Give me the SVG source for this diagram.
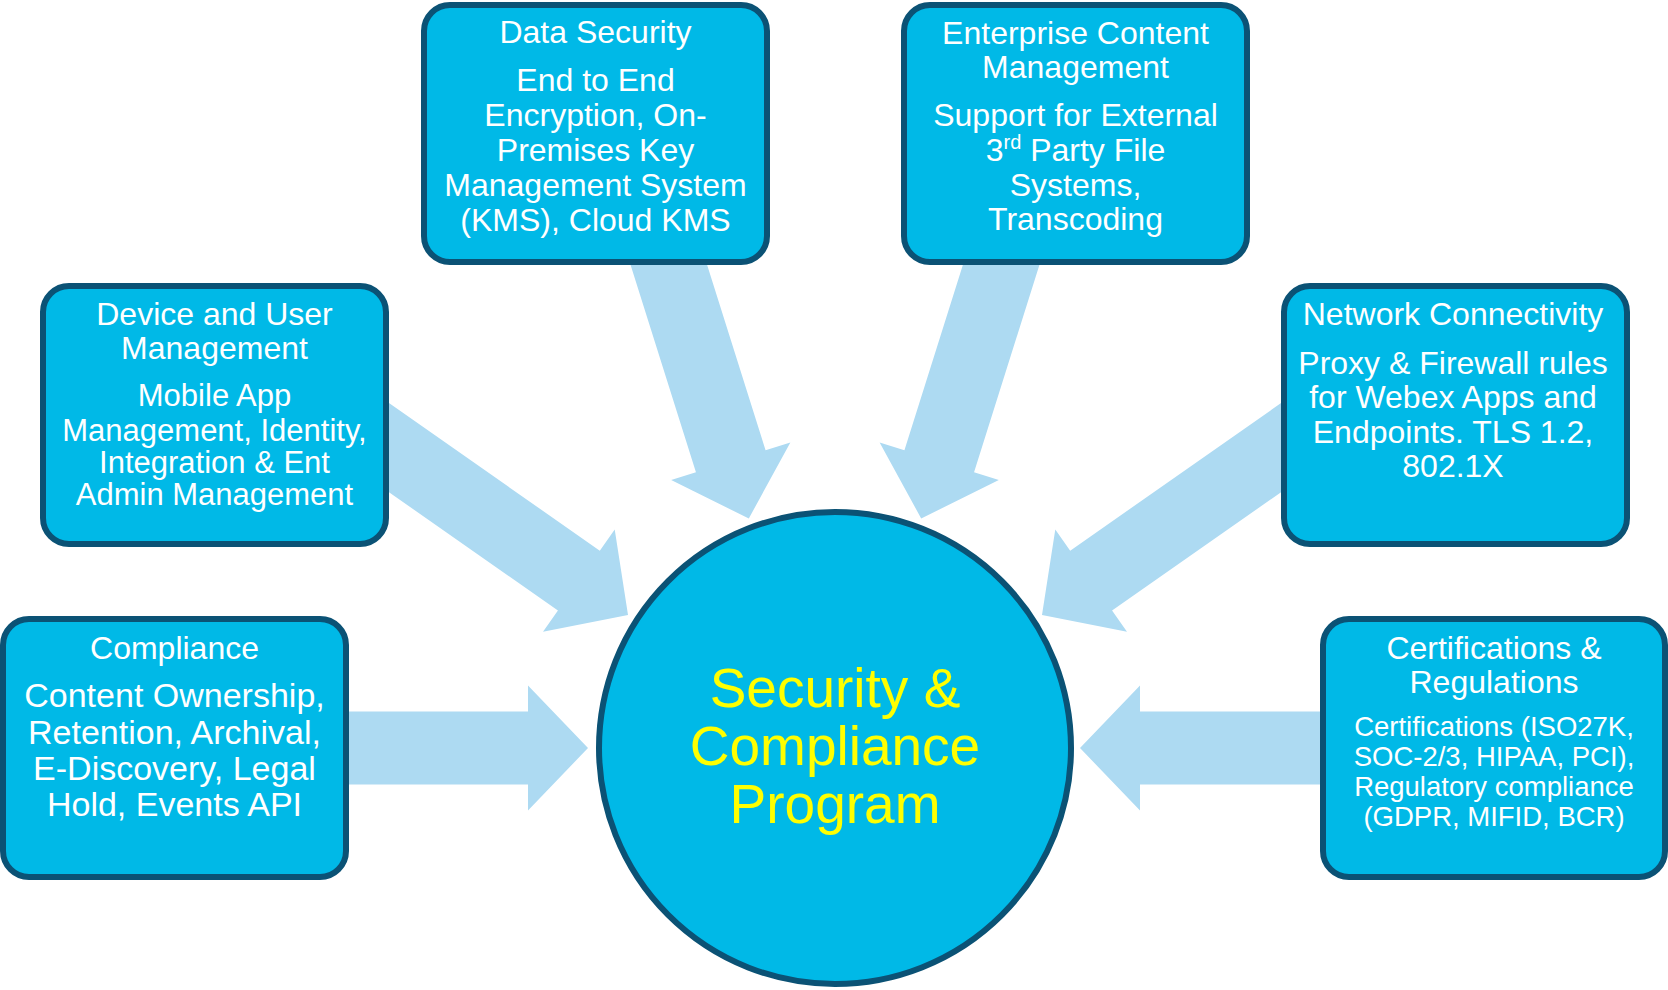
<svg xmlns="http://www.w3.org/2000/svg" width="1668" height="990" viewBox="0 0 1668 990">
<style>
.box{fill:#00B9E7;stroke:#0B5275;stroke-width:6}
.arr{fill:#ADDAF2}
.t{font-family:"Liberation Sans",Arial,sans-serif;fill:#FFFFFF;text-anchor:middle;font-size:32px}
.b{font-family:"Liberation Sans",Arial,sans-serif;fill:#FFFFFF;text-anchor:middle;font-size:31px}
.c{font-family:"Liberation Sans",Arial,sans-serif;fill:#FFFF00;text-anchor:middle;font-size:55px}
</style>
<defs>
<path id="a340" d="M0,-36.5 H280 V-62.5 L340,0 L280,62.5 V36.5 H0 Z"/>
<path id="a292" d="M0,-36.5 H232 V-62.5 L292,0 L232,62.5 V36.5 H0 Z"/>
<path id="a248" d="M0,-36.5 H188 V-62.5 L248,0 L188,62.5 V36.5 H0 Z"/>
</defs>
<rect width="1668" height="990" fill="#FFFFFF"/>
<g id="connectors" class="arr">
<use href="#a248" transform="translate(340,748)"/>
<use href="#a248" transform="translate(1328,748) rotate(180)"/>
<use href="#a340" transform="translate(349.5,420) rotate(35)"/>
<use href="#a340" transform="translate(1320.5,420) rotate(145)"/>
<use href="#a292" transform="translate(661,240) rotate(72.5)"/>
<use href="#a292" transform="translate(1009,240) rotate(107.5)"/>
</g>
<g id="data-security">
<rect class="box" x="424" y="5" width="343" height="257" rx="26"/>
<text class="t" x="595.5" y="43">Data Security</text>
<text class="t" x="595.5" y="91">End to End</text>
<text class="t" x="595.5" y="126">Encryption, On-</text>
<text class="t" x="595.5" y="161">Premises Key</text>
<text class="t" x="595.5" y="196">Management System</text>
<text class="t" x="595.5" y="231">(KMS), Cloud KMS</text>
</g>
<g id="enterprise-content">
<rect class="box" x="904" y="5" width="343" height="257" rx="26"/>
<text class="t" x="1075.5" y="44">Enterprise Content</text>
<text class="t" x="1075.5" y="78">Management</text>
<text class="t" x="1075.5" y="126">Support for External</text>
<text class="t" x="1075.5" y="161">3<tspan font-size="20" dy="-12">rd</tspan><tspan dy="12"> Party File</tspan></text>
<text class="t" x="1075.5" y="196">Systems,</text>
<text class="t" x="1075.5" y="230">Transcoding</text>
</g>
<g id="device-user">
<rect class="box" x="43" y="286" width="343" height="258" rx="26"/>
<text class="t" x="214.5" y="325">Device and User</text>
<text class="t" x="214.5" y="359">Management</text>
<text class="b" x="214.5" y="406">Mobile App</text>
<text class="b" x="214.5" y="441">Management, Identity,</text>
<text class="b" x="214.5" y="473">Integration &amp; Ent</text>
<text class="b" x="214.5" y="505">Admin Management</text>
</g>
<g id="network">
<rect class="box" x="1284" y="286" width="343" height="258" rx="26"/>
<text class="t" x="1453" y="325">Network Connectivity</text>
<text class="t" x="1453" y="374">Proxy &amp; Firewall rules</text>
<text class="t" x="1453" y="408">for Webex Apps and</text>
<text class="t" x="1453" y="443">Endpoints. TLS 1.2,</text>
<text class="t" x="1453" y="477">802.1X</text>
</g>
<g id="compliance">
<rect class="box" x="3" y="619" width="343" height="258" rx="26"/>
<text class="t" x="174.5" y="659">Compliance</text>
<text class="t" x="174.5" y="707" style="font-size:34px">Content Ownership,</text>
<text class="t" x="174.5" y="744" style="font-size:34px">Retention, Archival,</text>
<text class="t" x="174.5" y="780" style="font-size:34px">E-Discovery, Legal</text>
<text class="t" x="174.5" y="816" style="font-size:34px">Hold, Events API</text>
</g>
<g id="certifications">
<rect class="box" x="1323" y="619" width="342" height="258" rx="26"/>
<text class="t" x="1494" y="659">Certifications &amp;</text>
<text class="t" x="1494" y="693">Regulations</text>
<text class="t" x="1494" y="736" style="font-size:27.5px">Certifications (ISO27K,</text>
<text class="t" x="1494" y="766" style="font-size:27.5px">SOC-2/3, HIPAA, PCI),</text>
<text class="t" x="1494" y="796" style="font-size:27.5px">Regulatory compliance</text>
<text class="t" x="1494" y="826" style="font-size:27.5px">(GDPR, MIFID, BCR)</text>
</g>
<g id="program">
<circle class="box" cx="835" cy="748" r="236"/>
<text class="c" x="835" y="707">Security &amp;</text>
<text class="c" x="835" y="765">Compliance</text>
<text class="c" x="835" y="823">Program</text>
</g>
</svg>
